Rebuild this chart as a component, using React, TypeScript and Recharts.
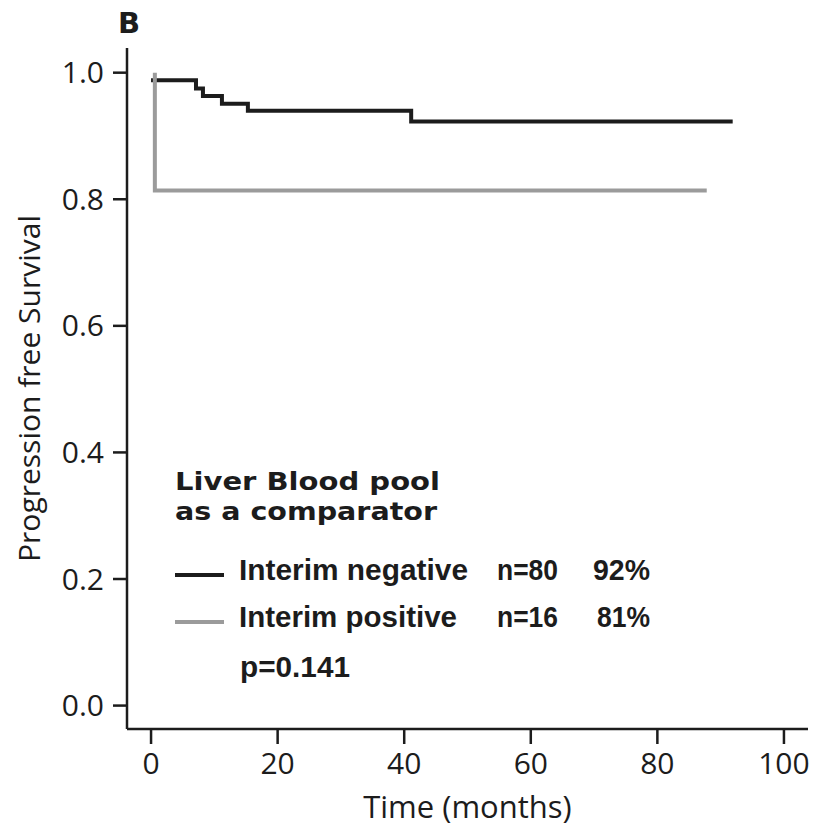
import { Customized, Label, Line, LineChart, XAxis, YAxis } from "recharts";

// Kaplan-Meier steps (time in months, survival fraction)
const negTimes = [0, 7.1, 8.2, 11.2, 15.3, 41.1, 91.9];
const negSurv = [0.988, 0.975, 0.963, 0.951, 0.94, 0.923, 0.923];
const posTimes = [0.6, 0.6, 87.8];
const posSurv = [1.0, 0.814, 0.814];

const xTicks = [0, 20, 40, 60, 80, 100];
const yTicks = [0, 0.2, 0.4, 0.6, 0.8, 1.0];

const legendTitle = ["Liver Blood pool", "as a comparator"];
const groups = ["Interim negative", "Interim positive"];
const groupN = ["n=80", "n=16"];
const groupPct = ["92%", "81%"];
const pValue = "p=0.141";

const negData = negTimes.map((t, i) => ({ t, s: negSurv[i] }));
const posData = posTimes.map((t, i) => ({ t, s: posSurv[i] }));

const INK = "#1c1c1c";
const GREY = "#9b9b9b";
const AXIS_FONT = "'Open Sans', 'Noto Sans', sans-serif";
const BOLD_WIDE = "'DejaVu Sans', Verdana, sans-serif";
const BOLD_NARROW = "'Liberation Sans', Arial, sans-serif";

// narrow bold text squeezed to the widths measured in the figure
const Narrow = ({ x, y, w, anchor = "start", children }: any) => (
    <text
        x={x}
        y={y}
        textAnchor={anchor}
        textLength={w}
        lengthAdjust="spacingAndGlyphs"
        fontFamily={BOLD_NARROW}
        fontWeight="bold"
        fontSize={30}
        fill={INK}
    >
        {children}
    </text>
);

const LegendBlock = () => {
    const colors = [INK, GREY];
    const rowBase = [580, 627];
    const groupW = [229, 218];
    const pctW = [57, 53];
    return (
        <g>
            <text x={118} y={33} fontFamily={BOLD_WIDE} fontWeight="bold" fontSize={29} fill={INK}>
                B
            </text>
            {legendTitle.map((line, i) => (
                <text
                    key={line}
                    x={175}
                    y={490 + i * 30}
                    textLength={i === 0 ? 265 : 262}
                    lengthAdjust="spacingAndGlyphs"
                    fontFamily={BOLD_WIDE}
                    fontWeight="bold"
                    fontSize={25}
                    fill={INK}
                >
                    {line}
                </text>
            ))}
            {groups.map((g, i) => (
                <g key={g}>
                    <line x1={175} x2={224} y1={rowBase[i] - 5} y2={rowBase[i] - 5} stroke={colors[i]} strokeWidth={4} />
                    <Narrow x={239} y={rowBase[i]} w={groupW[i]}>
                        {g}
                    </Narrow>
                    <Narrow x={497} y={rowBase[i]} w={61}>
                        {groupN[i]}
                    </Narrow>
                    <Narrow x={650 - pctW[i]} y={rowBase[i]} w={pctW[i]}>
                        {groupPct[i]}
                    </Narrow>
                </g>
            ))}
            <Narrow x={240} y={677} w={110}>
                {pValue}
            </Narrow>
        </g>
    );
};

export default function App() {
    return (
        <div style={{ margin: -8, width: 820, height: 832, background: "#fff" }}>
            <LineChart
                width={820}
                height={832}
                margin={{ top: 48, right: 12, left: 0, bottom: 43 }}
            >
                <XAxis
                    type="number"
                    dataKey="t"
                    domain={[-3.8, 103.8]}
                    ticks={xTicks}
                    allowDataOverflow
                    height={60}
                    tickSize={15}
                    tickMargin={9}
                    stroke={INK}
                    strokeWidth={2.5}
                    tick={{ fill: INK, fontSize: 30, fontFamily: AXIS_FONT }}
                >
                    <Label
                        content={({ viewBox }: any) => (
                            <text
                                x={viewBox.x + viewBox.width / 2}
                                y={818}
                                textAnchor="middle"
                                fontFamily={AXIS_FONT}
                                fontSize={31}
                                fill={INK}
                            >
                                Time (months)
                            </text>
                        )}
                    />
                </XAxis>
                <YAxis
                    type="number"
                    dataKey="s"
                    domain={[-0.037, 1.039]}
                    ticks={yTicks}
                    allowDataOverflow
                    width={127}
                    tickSize={14}
                    tickMargin={9}
                    stroke={INK}
                    strokeWidth={2.5}
                    tickFormatter={(v: number) => v.toFixed(1)}
                    tick={{ fill: INK, fontSize: 30, fontFamily: AXIS_FONT }}
                >
                    <Label
                        content={({ viewBox }: any) => {
                            const cy = viewBox.y + viewBox.height / 2;
                            return (
                                <text
                                    x={40}
                                    y={cy}
                                    transform={`rotate(-90, 40, ${cy})`}
                                    textAnchor="middle"
                                    fontFamily={AXIS_FONT}
                                    fontSize={30}
                                    fill={INK}
                                >
                                    Progression free Survival
                                </text>
                            );
                        }}
                    />
                </YAxis>
                <Line
                    data={negData}
                    dataKey="s"
                    type="stepAfter"
                    stroke={INK}
                    strokeWidth={4}
                    strokeLinejoin="miter"
                    dot={false}
                    activeDot={false}
                    isAnimationActive={false}
                />
                <Line
                    data={posData}
                    dataKey="s"
                    type="stepAfter"
                    stroke={GREY}
                    strokeWidth={4}
                    strokeLinejoin="miter"
                    dot={false}
                    activeDot={false}
                    isAnimationActive={false}
                />
                <Customized component={LegendBlock} />
            </LineChart>
        </div>
    );
}
